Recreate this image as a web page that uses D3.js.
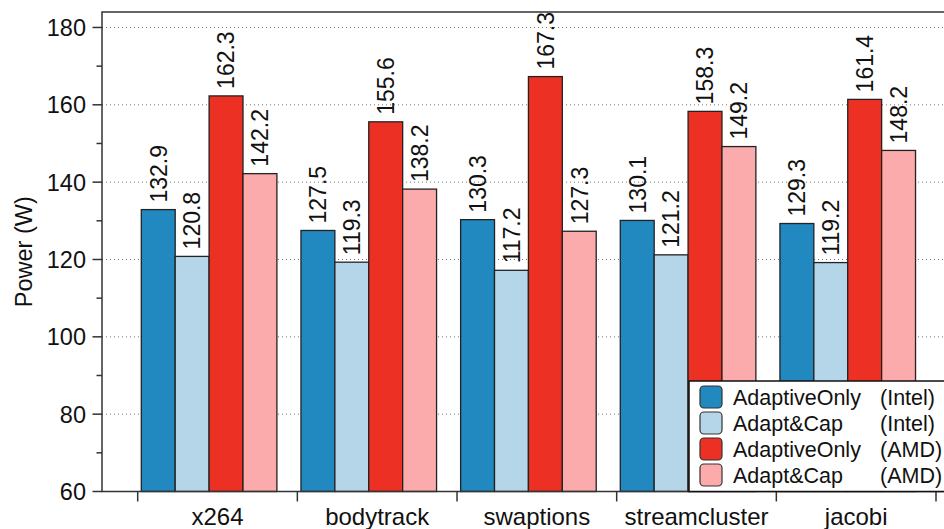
<!DOCTYPE html>
<meta charset="utf-8">
<style>
body { margin: 0; background: #fff; }
text { font-family: "Liberation Sans", Arial, Helvetica, sans-serif; fill: #111; }
.grid { stroke: #777; stroke-width: 1; stroke-dasharray: 1 3; }
.frame { stroke: #333; stroke-width: 1.5; fill: none; }
.bar { stroke: #222; stroke-width: 1.3; }
</style>
<svg width="944" height="529"></svg>
<script src="https://cdn.jsdelivr.net/npm/d3@7"></script>
<script>

var benchmarks = ["x264", "bodytrack", "swaptions", "streamcluster", "jacobi"];
var series = ["AdaptiveOnly (Intel)", "Adapt&Cap (Intel)", "AdaptiveOnly (AMD)", "Adapt&Cap (AMD)"];
var seriesName = ["AdaptiveOnly", "Adapt&Cap", "AdaptiveOnly", "Adapt&Cap"];
var seriesPlat = ["(Intel)", "(Intel)", "(AMD)", "(AMD)"];
var colors = ["#2288c0", "#b4d6e8", "#ec3124", "#fbabab"];

var adaptIntel = [132.9, 127.5, 130.3, 130.1, 129.3];
var capIntel   = [120.8, 119.3, 117.2, 121.2, 119.2];
var adaptAMD   = [162.3, 155.6, 167.3, 158.3, 161.4];
var capAMD     = [142.2, 138.2, 127.3, 149.2, 148.2];
var values = [adaptIntel, capIntel, adaptAMD, capAMD];

var yTicks = [60, 80, 100, 120, 140, 160, 180];
var yMinor = [70, 90, 110, 130, 150, 170];

var svg = d3.select("svg"),
    plotL = 102, plotT = 12, plotB = 491.5;

var y = d3.scaleLinear().domain([60, 184]).range([plotB, plotT]);

var x = d3.scaleBand().domain(benchmarks).range([137.7, 936]).padding(0);
var xi = d3.scaleBand().domain(series).range([3.6, 139.2]).padding(0);

// grid
svg.append("g").selectAll("line")
  .data(yTicks.filter(function(d){ return d > 60; }))
  .enter().append("line")
    .attr("class", "grid")
    .attr("x1", plotL).attr("x2", 944)
    .attr("y1", function(d){ return y(d); })
    .attr("y2", function(d){ return y(d); });

// bars
var rows = [];
benchmarks.forEach(function(b, i) {
  series.forEach(function(s, j) {
    rows.push({b: b, s: s, j: j, v: values[j][i]});
  });
});

svg.append("g").selectAll("rect")
  .data(rows)
  .enter().append("rect")
    .attr("class", "bar")
    .attr("x", function(d){ return x(d.b) + xi(d.s); })
    .attr("width", xi.bandwidth())
    .attr("y", function(d){ return y(d.v); })
    .attr("height", function(d){ return plotB - y(d.v); })
    .attr("fill", function(d){ return colors[d.j]; });

svg.append("g").selectAll("text")
  .data(rows)
  .enter().append("text")
    .attr("transform", function(d){
      var cx = x(d.b) + xi(d.s) + xi.bandwidth() / 2;
      return "translate(" + cx + "," + (y(d.v) - 7) + ") rotate(-90)";
    })
    .attr("dy", "0.36em")
    .style("font-size", "23px")
    .text(function(d){ return d.v.toFixed(1); });

// frame
svg.append("path").attr("class", "frame")
  .attr("d", "M944," + plotT + "H" + plotL + "V" + plotB + "H944");

// y ticks
var ya = svg.append("g");
ya.selectAll("line.major").data(yTicks).enter().append("line")
  .attr("class", "frame")
  .attr("x1", plotL - 9.5).attr("x2", plotL)
  .attr("y1", function(d){ return y(d); }).attr("y2", function(d){ return y(d); });
ya.selectAll("line.minor").data(yMinor).enter().append("line")
  .attr("class", "frame")
  .attr("x1", plotL - 5.5).attr("x2", plotL)
  .attr("y1", function(d){ return y(d); }).attr("y2", function(d){ return y(d); });
ya.selectAll("text").data(yTicks).enter().append("text")
  .attr("x", 86).attr("y", function(d){ return y(d); })
  .attr("dy", "0.36em")
  .attr("text-anchor", "end")
  .style("font-size", "23.5px")
  .text(function(d){ return d; });

svg.append("text")
  .attr("transform", "translate(32," + ((plotT + plotB) / 2) + ") rotate(-90)")
  .attr("text-anchor", "middle")
  .style("font-size", "23.5px")
  .text("Power (W)");

// x ticks
var xa = svg.append("g");
var bounds = benchmarks.map(function(b){ return x(b); }).concat([x.range()[1]]);
xa.selectAll("line").data(bounds).enter().append("line")
  .attr("class", "frame")
  .attr("x1", function(d){ return d; }).attr("x2", function(d){ return d; })
  .attr("y1", plotB).attr("y2", plotB + 10);
xa.selectAll("text").data(benchmarks).enter().append("text")
  .attr("x", function(d){ return x(d) + x.bandwidth() / 2; })
  .attr("y", 525)
  .attr("text-anchor", "middle")
  .style("font-size", "24px")
  .text(function(d){ return d; });

// legend
var lg = svg.append("g");
lg.append("rect")
  .attr("x", 689).attr("y", 381).attr("width", 300).attr("height", plotB - 381)
  .attr("fill", "#fff").attr("stroke", "#111").attr("stroke-width", 1.5);
var li = lg.selectAll("g").data(series).enter().append("g")
  .attr("transform", function(d, i){ return "translate(0," + (397 + i * 26) + ")"; });
li.append("rect")
  .attr("x", 700).attr("y", -11).attr("width", 22).attr("height", 22)
  .attr("rx", 4)
  .attr("fill", function(d, i){ return colors[i]; })
  .attr("stroke", "#333").attr("stroke-width", 1.2);
li.append("text")
  .attr("x", 733).attr("dy", "0.36em")
  .style("font-size", "21.5px")
  .text(function(d, i){ return seriesName[i]; });
li.append("text")
  .attr("x", 880).attr("dy", "0.36em")
  .style("font-size", "21.5px")
  .text(function(d, i){ return seriesPlat[i]; });

</script>
